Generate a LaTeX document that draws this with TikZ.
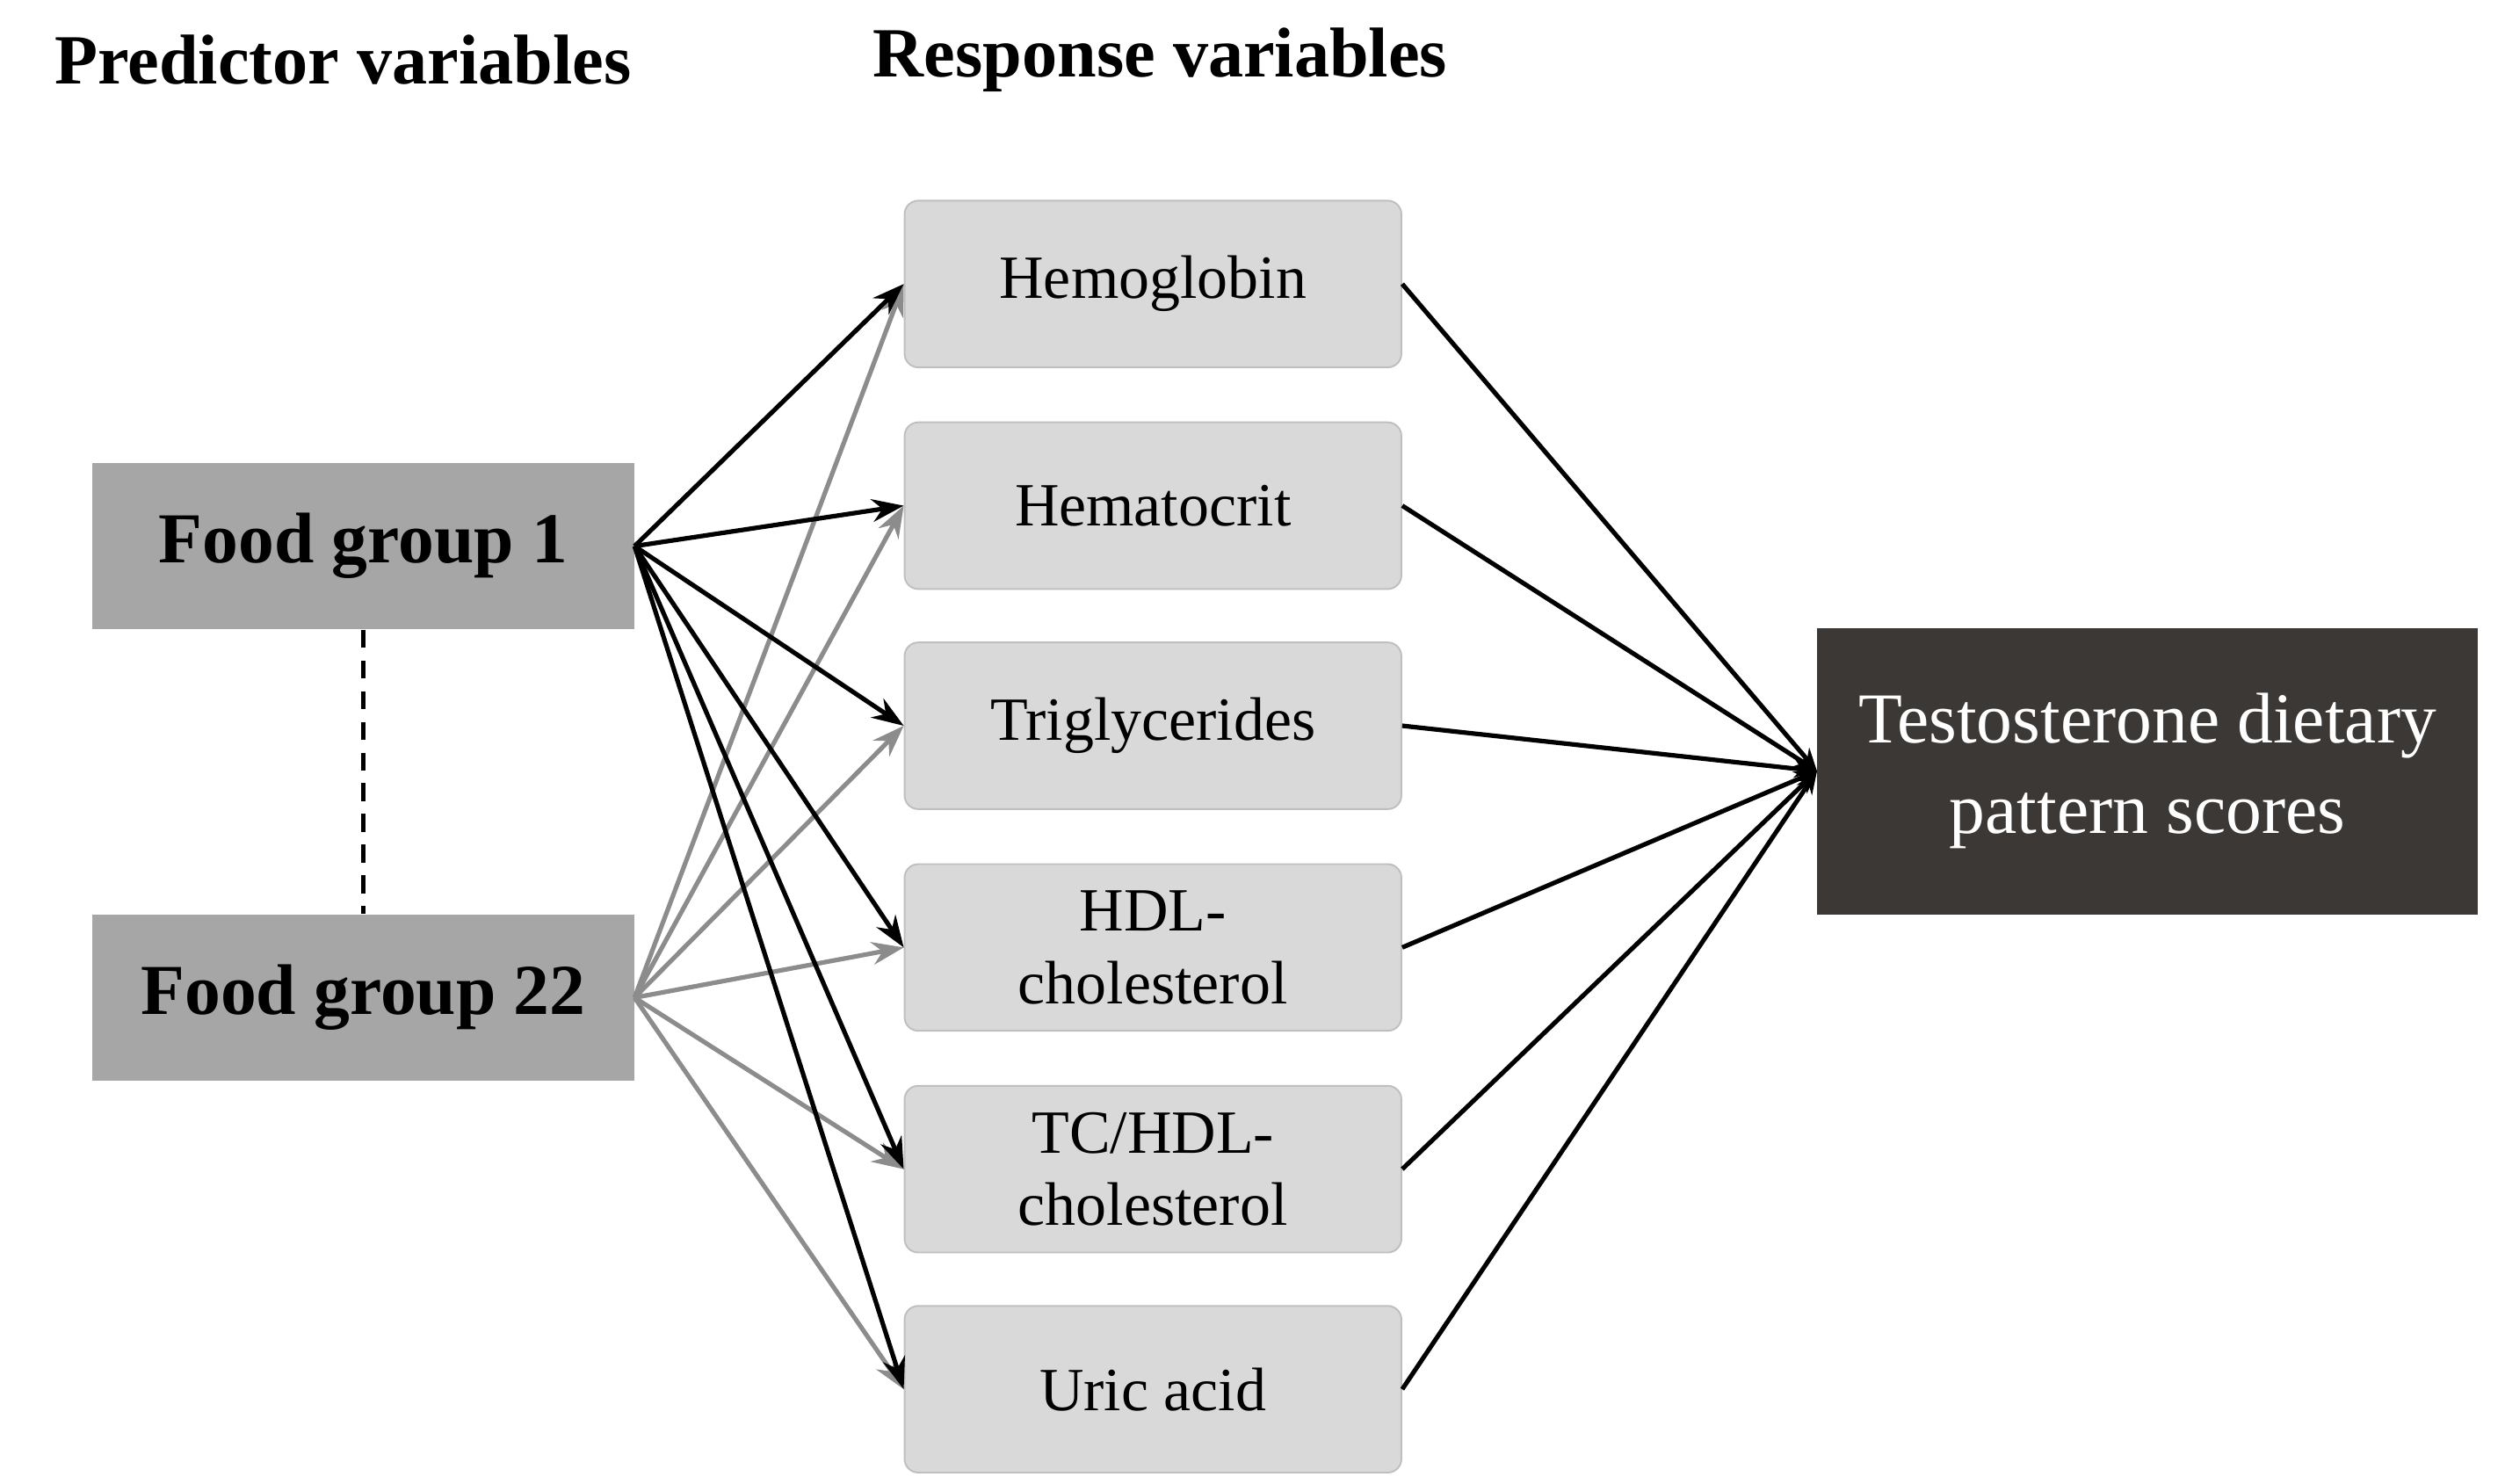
\documentclass[tikz,border=0pt]{standalone}
\usepackage{fontspec}
\setmainfont{Liberation Serif}
\usetikzlibrary{arrows.meta}
\definecolor{dk}{HTML}{3B3835}
\begin{document}
\begin{tikzpicture}[x=0.05cm,y=-0.05cm,
  resp/.style={draw=black!25,fill=black!15,rounded corners=12pt,line width=1.5pt,minimum width=307*0.05cm,minimum height=103*0.05cm,align=center,font=\fontsize{54}{64}\selectfont},
  food/.style={fill=black!35,minimum width=335*0.05cm,minimum height=103*0.05cm,font=\fontsize{63}{70}\selectfont\bfseries},
  blk/.style={line width=4pt,-{Stealth[length=28pt,width=20pt]}},
  gry/.style={line width=4pt,draw=black!45,-{Stealth[length=28pt,width=20pt]}},
  outl/.style={line width=4pt,-{Stealth[length=20pt,width=16pt]}}]
\useasboundingbox (0,0) rectangle (1548,917);
\node[font=\fontsize{62}{70}\selectfont\bfseries] (h1) at (212,37) {Predictor variables};
\node[font=\fontsize{62}{70}\selectfont\bfseries] (h2) at (717,37) {Response variables};
\node[food] (f1) at (224.5,337.5) {Food group 1};
\node[food] (f22) at (224.5,616.5) {Food group 22};
\draw[line width=4pt,dash pattern=on 16pt off 11pt] (f1.south) -- (f22.north);
\node[resp] (r1) at (712.5,175.5) {Hemoglobin};
\node[resp] (r2) at (712.5,312.5) {Hematocrit};
\node[resp] (r3) at (712.5,448.5) {Triglycerides};
\node[resp] (r4) at (712.5,585.5) {HDL-\\cholesterol};
\node[resp] (r5) at (712.5,722.5) {TC/HDL-\\cholesterol};
\node[resp] (r6) at (712.5,858.5) {Uric acid};
\node[fill=dk,text=white,minimum width=408*0.05cm,minimum height=177*0.05cm,align=center,font=\fontsize{63}{80}\selectfont] (t) at (1327,476.5) {Testosterone dietary\\pattern scores};
\coordinate (t0) at (t.west);
\foreach \r in {r1,r2,r3,r4,r5,r6}{
  \draw[gry] (f22.east) -- (\r.west);
}
\foreach \r in {r1,r2,r3,r4,r5,r6}{
  \draw[blk] (f1.east) -- (\r.west);
  \draw[outl] (\r.east) -- (t0);
}
\end{tikzpicture}
\end{document}
